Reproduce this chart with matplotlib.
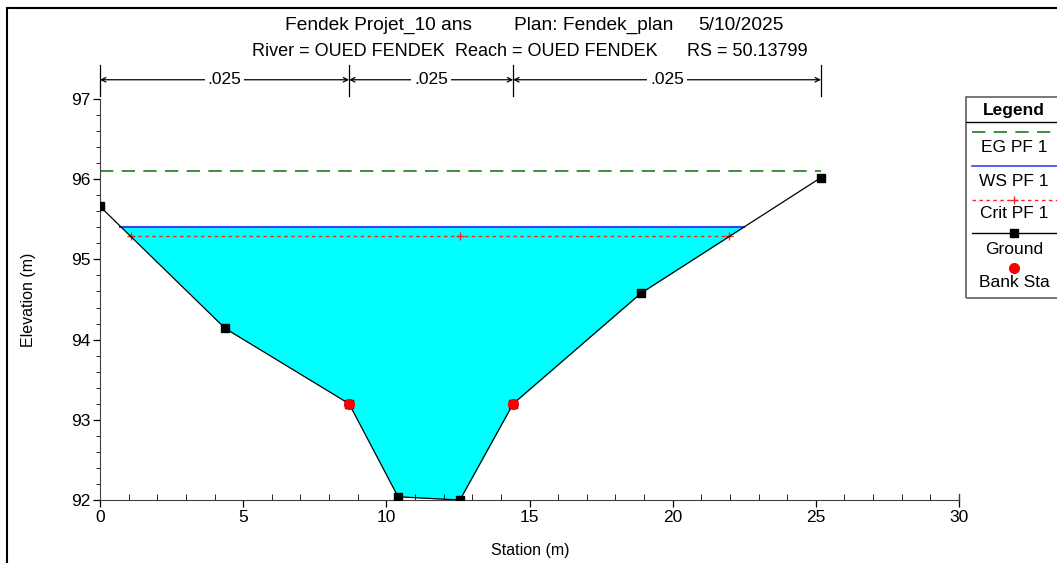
import matplotlib
matplotlib.use("Agg")
import matplotlib.pyplot as plt
from matplotlib.patches import Rectangle
from matplotlib.lines import Line2D
import numpy as np

plt.rcParams['font.family'] = ['Liberation Sans', 'DejaVu Sans']

# cross section data
station = [0.0, 4.37, 8.70, 10.41, 12.57, 14.43, 18.90, 25.18]
elev = [95.66, 94.14, 93.20, 92.04, 92.0, 93.20, 94.58, 96.02]
bank_sta = [8.70, 14.43]
bank_elev = [93.20, 93.20]
ws_elev = 95.40
ws_left, ws_right = 0.70, 22.50
crit_elev = 95.29
crit_sta = [1.08, 12.57, 21.97]
eg_elev = 96.10
n_breaks = [0.0, 8.70, 14.43, 25.18]
n_vals = ['.025', '.025', '.025']
title1 = ['Fendek Projet_10 ans', 'Plan: Fendek_plan', '5/10/2025']
title2 = ['River = OUED FENDEK', 'Reach = OUED FENDEK', 'RS = 50.13799']

fig = plt.figure(figsize=(10.57, 5.63), dpi=100)
ax = fig.add_axes([100/1057, 1-500/563, 859/1057, 401/563])

# water fill
xs = [ws_left] + [s for s in station if ws_left < s < ws_right] + [ws_right]
ys = np.interp(xs, station, elev)
ax.fill_between(xs, ys, ws_elev, color='#00ffff', lw=0, zorder=1)

ax.plot([0, station[-1]], [eg_elev, eg_elev], color='#1f7a1f', lw=1.2, dashes=(8, 5), zorder=2)
ax.plot([ws_left, ws_right], [ws_elev, ws_elev], color='#3344ee', lw=1.5, zorder=3)
ax.plot([crit_sta[0], crit_sta[-1]], [crit_elev, crit_elev], color='#ff2020', lw=1, dashes=(2.5, 2.5), zorder=3)
ax.plot(crit_sta, [crit_elev]*len(crit_sta), '+', color='#ff2020', ms=6, mew=1, zorder=4)
ax.plot(station, elev, '-', color='black', lw=0.9, zorder=5)
ax.plot(station, elev, 's', color='black', ms=5.5, zorder=6)
ax.plot(bank_sta, bank_elev, 'o', color='red', ms=7, zorder=7)

ax.set_xlim(0, 30)
ax.set_ylim(92, 97)
ax.set_xticks([0, 5, 10, 15, 20, 25, 30])
ax.set_yticks([92, 93, 94, 95, 96, 97])
ax.set_xticks(np.arange(0, 31, 1), minor=True)
ax.set_yticks(np.arange(92, 97.01, 0.2), minor=True)
ax.tick_params(axis='both', which='major', labelsize=12.5, length=5, width=0.9, pad=2)
ax.tick_params(axis='x', which='minor', direction='in', length=4)
ax.tick_params(axis='y', which='minor', direction='out', length=3)
ax.spines['top'].set_visible(False)
ax.spines['right'].set_visible(False)
for sp in ['left', 'bottom']:
    ax.spines[sp].set_color('#404040')
ax.plot([30, 30], [92, 92.08], color='#404040', lw=1, clip_on=False)
ax.set_xlabel('Station (m)', fontsize=11.5)
ax.set_ylabel('Elevation (m)', fontsize=11.5)
ax.xaxis.set_label_coords(430/859, -50/401)
ax.yaxis.set_label_coords(-72/859, 0.5)
ax.xaxis.label.set_va('center')
ax.yaxis.label.set_va('center')

# manning's n dimension lines
y_dim = 97.24
for b in n_breaks:
    ax.plot([b, b], [97.04, 97.43], color='black', lw=0.9, clip_on=False)
for i, n in enumerate(n_vals):
    a, b = n_breaks[i], n_breaks[i+1]
    ax.annotate('', xy=(a, y_dim), xytext=(b, y_dim), annotation_clip=False,
                arrowprops=dict(arrowstyle='<->', lw=0.9, color='black',
                                shrinkA=0, shrinkB=0, mutation_scale=8))
    ax.text((a+b)/2, y_dim, n, ha='center', va='center', fontsize=12.5,
            bbox=dict(facecolor='white', edgecolor='none', pad=2), clip_on=False)

# title lines, placed piece by piece
for s, px in zip(title1, [285, 514, 698]):
    fig.text(px/1057, 1-25/563, s, ha='left', va='center', fontsize=13.8)
for s, px in zip(title2, [252, 455, 687]):
    fig.text(px/1057, 1-51/563, s, ha='left', va='center', fontsize=13)

# figure frame
fig.patches.append(Rectangle((7/1057, -0.1), 1.1, 1-8/563+0.1, transform=fig.transFigure,
                             fill=False, edgecolor='black', lw=1.5))

# legend drawn by hand
def fx(px):
    return px/1057
def fy(py):
    return 1-py/563

fig.patches.append(Rectangle((fx(966), fy(298)), 0.2, fy(97)-fy(298), transform=fig.transFigure,
                             fill=False, edgecolor='#606060', lw=1.2))
fig.lines.append(Line2D([fx(966), 1], [fy(122), fy(122)], transform=fig.transFigure, color='black', lw=1))
cx = 1014
fig.text(fx(cx), fy(110), 'Legend', ha='center', va='center', fontsize=12.5, fontweight='bold')
fig.lines.append(Line2D([fx(972), 1], [fy(132), fy(132)], transform=fig.transFigure,
                        color='#1f7a1f', lw=1.2, dashes=(8, 5)))
fig.text(fx(cx), fy(147), 'EG PF 1', ha='center', va='center', fontsize=12.5)
fig.lines.append(Line2D([fx(972), 1], [fy(166), fy(166)], transform=fig.transFigure,
                        color='#3344ee', lw=1.2))
fig.text(fx(cx), fy(181), 'WS PF 1', ha='center', va='center', fontsize=12.5)
fig.lines.append(Line2D([fx(972), 1], [fy(200), fy(200)], transform=fig.transFigure,
                        color='#ff2020', lw=1, dashes=(2.5, 2.5)))
fig.lines.append(Line2D([fx(cx)], [fy(200)], transform=fig.transFigure, marker='+',
                        color='#ff2020', ms=6, ls='none'))
fig.text(fx(cx), fy(214), 'Crit PF 1', ha='center', va='center', fontsize=12.5)
fig.lines.append(Line2D([fx(972), 1], [fy(233), fy(233)], transform=fig.transFigure,
                        color='black', lw=1))
fig.lines.append(Line2D([fx(cx)], [fy(233)], transform=fig.transFigure, marker='s',
                        color='black', ms=5.5, ls='none'))
fig.text(fx(cx), fy(249), 'Ground', ha='center', va='center', fontsize=12.5)
fig.lines.append(Line2D([fx(cx)], [fy(268)], transform=fig.transFigure, marker='o',
                        color='red', ms=7, ls='none'))
fig.text(fx(cx), fy(283), 'Bank Sta', ha='center', va='center', fontsize=12.5)

fig.savefig('out.png', dpi=100)
